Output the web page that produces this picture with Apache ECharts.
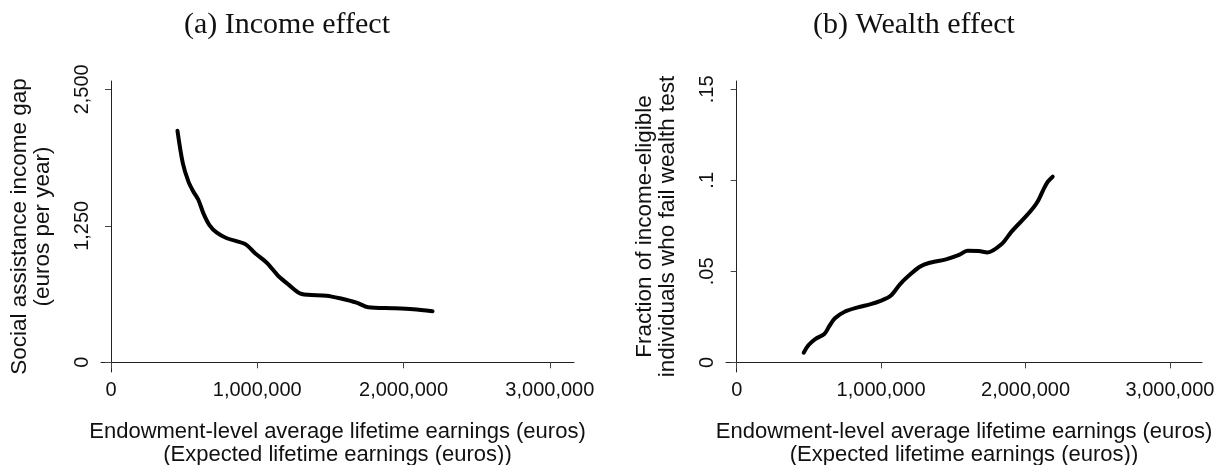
<!DOCTYPE html>
<html>
<head>
<meta charset="utf-8">
<title>Income and wealth effect</title>
<script src="https://cdn.jsdelivr.net/npm/echarts@6/dist/echarts.min.js"></script>
<style>
  html, body { margin: 0; padding: 0; background: #fff; }
  #main { width: 1220px; height: 465px; }
</style>
</head>
<body>
<div id="main"></div>
<script>
// (a) income effect: lifetime earnings (euros) vs income gap (euros per year)
var incomeEarnings = [454600, 491500, 529700, 563800, 598000, 632000, 673000, 723500, 792000, 917000, 985000,
  1065000, 1144000, 1212000, 1304000, 1474000, 1565000, 1679000, 1758000, 1929000, 2066000, 2198000];
var incomeGap = [2121, 1822, 1654, 1562, 1486, 1364, 1257, 1187, 1136, 1083, 998,
  912, 790, 714, 625, 610, 586, 546, 504, 495, 485, 467];

// (b) wealth effect: lifetime earnings (euros) vs fraction failing wealth test
var wealthEarnings = [464000, 498000, 543700, 607000, 639000, 680000, 747500, 838000, 928000, 996000,
  1064000, 1132000, 1189000, 1268000, 1336000, 1449500, 1540000, 1597000, 1676000, 1737000,
  1835000, 1903000, 1996000, 2054000, 2090000, 2128000, 2154000, 2188000];
var wealthFail = [0.0053, 0.0095, 0.0128, 0.0156, 0.0196, 0.0242, 0.0278, 0.0302, 0.0320, 0.0338,
  0.0364, 0.0430, 0.0474, 0.0525, 0.0547, 0.0566, 0.0590, 0.0613, 0.0612, 0.0604,
  0.0650, 0.0718, 0.0796, 0.0849, 0.0892, 0.0956, 0.0992, 0.1020];

var xTicks = [0, 1000000, 2000000, 3000000];
var incomeTicks = [0, 1250, 2500];
var wealthTicks = [0, 0.05, 0.1, 0.15];

var panelTitles = ['(a) Income effect', '(b) Wealth effect'];
var xName = 'Endowment-level average lifetime earnings (euros)\n(Expected lifetime earnings (euros))';
var incomeName = 'Social assistance income gap\n(euros per year)';
var wealthName = 'Fraction of income-eligible\nindividuals who fail wealth test';

function pairs(xs, ys) {
  return xs.map(function (x, i) { return [x, ys[i]]; });
}

var sans = '"Liberation Sans", Arial, Helvetica, sans-serif';
var serif = '"Liberation Serif", "DejaVu Serif", serif';

function xAxisFor(gridIndex, min, max) {
  return {
    type: 'value',
    gridIndex: gridIndex,
    min: min,
    max: max,
    name: xName,
    nameLocation: 'middle',
    nameGap: 48,
    nameTextStyle: { fontFamily: sans, fontSize: 22, color: '#111', lineHeight: 23 },
    axisLine: { show: true, lineStyle: { color: '#222', width: 1 } },
    axisTick: { show: true, length: 6, customValues: xTicks, lineStyle: { color: '#444' } },
    axisLabel: {
      customValues: xTicks,
      margin: 8,
      fontFamily: sans,
      fontSize: 20,
      color: '#111',
      formatter: function (v) { return v.toLocaleString('en-US'); }
    },
    splitLine: { show: false }
  };
}

function yAxisFor(gridIndex, min, max, ticks, name, fmt) {
  return {
    type: 'value',
    gridIndex: gridIndex,
    min: min,
    max: max,
    name: name,
    nameLocation: 'middle',
    nameRotate: 90,
    nameGap: 47,
    nameTextStyle: { fontFamily: sans, fontSize: 22.5, color: '#111', lineHeight: 23 },
    axisLine: { show: true, lineStyle: { color: '#222', width: 1 } },
    axisTick: { show: true, length: 6, customValues: ticks, lineStyle: { color: '#444' } },
    axisLabel: {
      customValues: ticks,
      rotate: 90,
      margin: 9,
      fontFamily: sans,
      fontSize: 20,
      color: '#111',
      formatter: fmt
    },
    splitLine: { show: false }
  };
}

var chartDom = document.getElementById('main');
var myChart = echarts.init(chartDom);
var option;

option = {
  backgroundColor: '#fff',
  animation: false,
  title: [
    {
      text: panelTitles[0], left: 282, top: 5, textAlign: 'center',
      textStyle: { fontFamily: serif, fontSize: 30, fontWeight: 'normal', color: '#111' }
    },
    {
      text: panelTitles[1], left: 909, top: 5, textAlign: 'center',
      textStyle: { fontFamily: serif, fontSize: 30, fontWeight: 'normal', color: '#111' }
    }
  ],
  grid: [
    { left: 101, top: 81, width: 473, height: 291, containLabel: false, outerBoundsMode: 'none' },
    { left: 726, top: 81, width: 476, height: 291, containLabel: false, outerBoundsMode: 'none' }
  ],
  xAxis: [
    xAxisFor(0, -68000, 3165000),
    xAxisFor(1, -74000, 3222000)
  ],
  yAxis: [
    yAxisFor(0, -89, 2576, incomeTicks, incomeName, function (v) { return v.toLocaleString('en-US'); }),
    yAxisFor(1, -0.0053, 0.15456, wealthTicks, wealthName, function (v) {
      return v === 0 ? '0' : String(v).replace(/^0/, '');
    })
  ],
  series: [
    {
      name: 'Income gap',
      type: 'line',
      xAxisIndex: 0,
      yAxisIndex: 0,
      data: pairs(incomeEarnings, incomeGap),
      smooth: 0.3,
      showSymbol: false,
      lineStyle: { color: '#000', width: 4, cap: 'round', join: 'round' }
    },
    {
      name: 'Fail wealth test',
      type: 'line',
      xAxisIndex: 1,
      yAxisIndex: 1,
      data: pairs(wealthEarnings, wealthFail),
      smooth: 0.3,
      showSymbol: false,
      lineStyle: { color: '#000', width: 4, cap: 'round', join: 'round' }
    }
  ]
};

option && myChart.setOption(option);
</script>
</body>
</html>
